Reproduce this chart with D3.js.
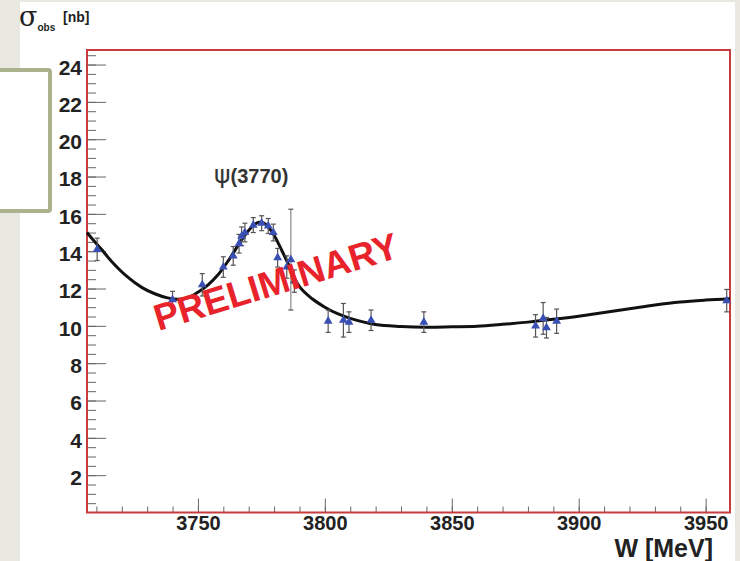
<!DOCTYPE html>
<html>
<head>
<meta charset="utf-8">
<script src="https://cdn.jsdelivr.net/npm/d3@7"></script>
<style>
  html, body { margin: 0; padding: 0; background: #e8e7e0; }
  svg { display: block; font-family: "Liberation Sans", Arial, sans-serif; }
</style>
</head>
<body>
<svg id="chart"></svg>
<script>
// Measured points: W [MeV], sigma_obs [nb], error [nb]
const wPoints = [3710.3, 3740.0, 3751.7, 3760.0, 3763.9, 3766.2, 3767.2, 3768.5, 3771.8,
  3775.1, 3777.7, 3779.7, 3781.4, 3785.0, 3786.6, 3788.0, 3801.3, 3807.3, 3809.5,
  3818.2, 3839.0, 3883.0, 3886.0, 3887.3, 3891.3, 3958.3];
const sigmaPoints = [14.1, 11.4, 12.2, 13.15, 13.75, 14.4, 14.8, 15.0, 15.4,
  15.5, 15.35, 15.0, 13.65, 13.15, 13.55, 12.4, 10.25, 10.3, 10.2,
  10.3, 10.2, 10.0, 10.4, 9.9, 10.25, 11.35];
const sigmaErrors = [0.6, 0.45, 0.6, 0.55, 0.5, 0.5, 0.5, 0.5, 0.4,
  0.4, 0.4, 0.45, 0.5, 0.6, 2.7, 0.6, 0.6, 0.9, 0.55,
  0.55, 0.55, 0.6, 0.85, 0.55, 0.65, 0.6];

// Fit curve
const wFit = [3706.3, 3708, 3712, 3716, 3722, 3728, 3733, 3738, 3742, 3746, 3750, 3754,
  3758, 3762, 3766, 3769, 3772, 3774, 3776, 3778, 3780, 3783, 3786, 3790, 3795, 3800,
  3805, 3810, 3820, 3830, 3840, 3850, 3860, 3870, 3880, 3890, 3900, 3910, 3920, 3930,
  3940, 3950, 3959.6];
const sigmaFit = [15.0, 14.72, 14.1, 13.45, 12.65, 12.05, 11.72, 11.5, 11.42, 11.5, 11.8, 12.2,
  12.75, 13.5, 14.35, 14.95, 15.4, 15.55, 15.5, 15.25, 14.85, 14.05, 13.2, 12.1, 11.45, 11.0,
  10.65, 10.4, 10.07, 9.97, 9.93, 9.95, 9.98, 10.08, 10.2, 10.35, 10.52, 10.72, 10.92, 11.12,
  11.28, 11.38, 11.45];

const xMajorTicks = [3750, 3800, 3850, 3900, 3950];
const xMinorTicks = d3.range(3710, 3960, 10);
const yMajorTicks = [2, 4, 6, 8, 10, 12, 14, 16, 18, 20, 22, 24];
const yMinorTicks = d3.range(0.5, 24.8, 0.5);

const width = 740, height = 561;
const plotLeft = 87, plotRight = 730, plotTop = 50, plotBottom = 512.5;

const svg = d3.select('#chart').attr('width', width).attr('height', height);

// slide background pieces
svg.append('rect').attr('x', 0).attr('y', 0).attr('width', width).attr('height', height).attr('fill', '#e8e7e0');
svg.append('rect').attr('x', 20).attr('y', 2).attr('width', 715).attr('height', height).attr('fill', '#ffffff');
svg.append('rect').attr('x', -6).attr('y', 70).attr('width', 56).attr('height', 141)
  .attr('fill', '#ffffff').attr('stroke', '#a9b18d').attr('stroke-width', 4).attr('rx', 2);

const x = d3.scaleLinear().domain([3706.3, 3959.6]).range([plotLeft, plotRight]);
const y = d3.scaleLinear().domain([0, 24.78]).range([plotBottom, plotTop]);

// minor ticks
svg.append('g').attr('transform', `translate(${plotLeft},0)`)
  .call(d3.axisLeft(y).tickValues(yMinorTicks).tickSizeInner(-9).tickSizeOuter(0).tickFormat(''))
  .call(g => g.select('.domain').remove())
  .call(g => g.selectAll('line').attr('stroke', '#666'));
svg.append('g').attr('transform', `translate(0,${plotBottom})`)
  .call(d3.axisBottom(x).tickValues(xMinorTicks).tickSizeInner(-6).tickSizeOuter(0).tickFormat(''))
  .call(g => g.select('.domain').remove())
  .call(g => g.selectAll('line').attr('stroke', '#666'));

// major ticks with labels
svg.append('g').attr('transform', `translate(${plotLeft},0)`)
  .call(d3.axisLeft(y).tickValues(yMajorTicks).tickSizeInner(-19).tickSizeOuter(0).tickPadding(5))
  .call(g => g.select('.domain').remove())
  .call(g => g.selectAll('line').attr('stroke', '#666'))
  .call(g => g.selectAll('text').attr('font-size', 21).attr('font-weight', 'bold')
    .attr('fill', '#222').attr('dy', '0.45em'));
svg.append('g').attr('transform', `translate(0,${plotBottom})`)
  .call(d3.axisBottom(x).tickValues(xMajorTicks).tickFormat(d3.format('d'))
    .tickSizeInner(-14).tickSizeOuter(0).tickPadding(3))
  .call(g => g.select('.domain').remove())
  .call(g => g.selectAll('line').attr('stroke', '#666'))
  .call(g => g.selectAll('text').attr('font-size', 20).attr('font-weight', 'bold').attr('fill', '#222'));

// frame
svg.append('rect').attr('x', plotLeft).attr('y', plotTop)
  .attr('width', plotRight - plotLeft).attr('height', plotBottom - plotTop)
  .attr('fill', 'none').attr('stroke', '#c83c3e').attr('stroke-width', 2);

// fit curve
const line = d3.line().x(d => x(d[0])).y(d => y(d[1])).curve(d3.curveCatmullRom);
svg.append('path').datum(d3.zip(wFit, sigmaFit)).attr('d', line)
  .attr('fill', 'none').attr('stroke', '#111').attr('stroke-width', 3);

// data points
const pts = d3.zip(wPoints, sigmaPoints, sigmaErrors);
const eb = svg.append('g').attr('stroke', '#555').attr('stroke-width', 1.2);
eb.selectAll('.bar').data(pts).join('line')
  .attr('x1', d => x(d[0])).attr('x2', d => x(d[0]))
  .attr('y1', d => y(d[1] - d[2])).attr('y2', d => y(d[1] + d[2]))
  .attr('stroke', d => d[2] > 2 ? '#888' : '#555');
eb.selectAll('.capT').data(pts).join('line')
  .attr('x1', d => x(d[0]) - 2.5).attr('x2', d => x(d[0]) + 2.5)
  .attr('y1', d => y(d[1] + d[2])).attr('y2', d => y(d[1] + d[2]));
eb.selectAll('.capB').data(pts).join('line')
  .attr('x1', d => x(d[0]) - 2.5).attr('x2', d => x(d[0]) + 2.5)
  .attr('y1', d => y(d[1] - d[2])).attr('y2', d => y(d[1] - d[2]));

svg.append('g').selectAll('path').data(pts).join('path')
  .attr('d', d3.symbol(d3.symbolTriangle, 34))
  .attr('transform', d => `translate(${x(d[0])},${y(d[1])})`)
  .attr('fill', '#3a4fb4');

// labels
const ytitle = svg.append('text').attr('x', 19).attr('y', 26).attr('fill', '#222');
ytitle.append('tspan').attr('font-family', 'DejaVu Serif, serif').attr('font-size', 27).text('σ');
ytitle.append('tspan').attr('font-size', 10).attr('font-weight', 'bold').attr('dy', 5).text('obs');
svg.append('text').attr('x', 63).attr('y', 22).attr('font-size', 14).attr('font-weight', 'bold')
  .attr('fill', '#222').text('[nb]');

svg.append('text').attr('x', 713).attr('y', 557).attr('text-anchor', 'end')
  .attr('font-size', 25).attr('font-weight', 'bold').attr('fill', '#222').text('W [MeV]');

const psi = svg.append('text').attr('x', 214).attr('y', 183).attr('fill', '#333');
psi.append('tspan').attr('font-family', 'DejaVu Sans, sans-serif').attr('font-size', 25).text('ψ');
psi.append('tspan').attr('font-size', 20).attr('font-weight', 'bold').text('(3770)');

svg.append('text')
  .attr('transform', 'translate(276,282) rotate(-17)')
  .attr('text-anchor', 'middle').attr('dominant-baseline', 'central')
  .attr('font-size', 37).attr('font-weight', 'bold').attr('fill', '#e8232b')
  .text('PRELIMINARY');
</script>
</body>
</html>
